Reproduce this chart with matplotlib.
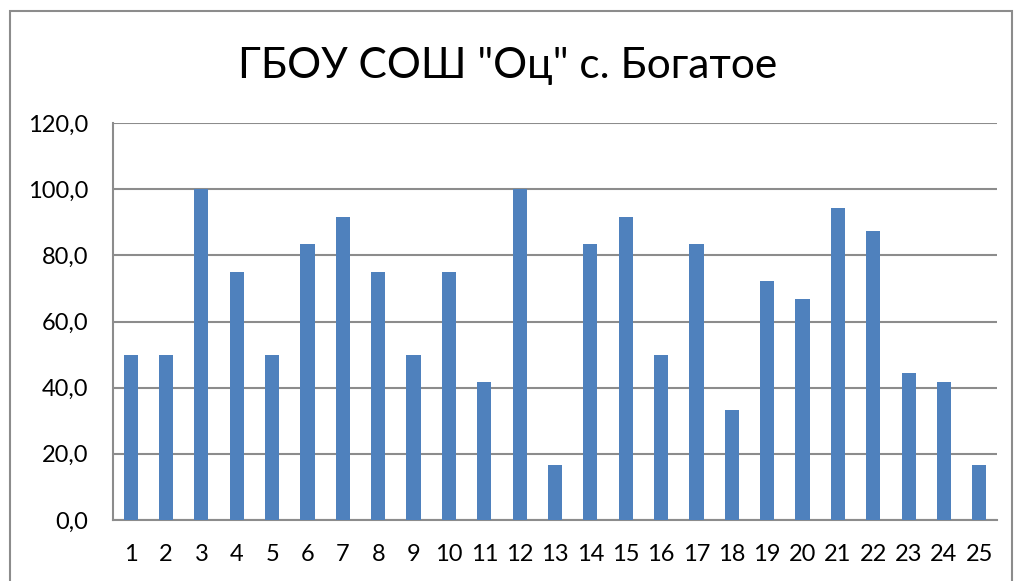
import matplotlib
matplotlib.use("Agg")
from matplotlib import pyplot as plt
from matplotlib.patches import Rectangle
from matplotlib.ticker import FuncFormatter

# chart data
title = 'ГБОУ СОШ "Оц" с. Богатое'
categories = [str(i) for i in range(1, 26)]
values = [50.0, 50.0, 100.0, 75.0, 50.0, 83.3, 91.7, 75.0, 50.0, 75.0,
          41.7, 100.0, 16.7, 83.3, 91.7, 50.0, 83.3, 33.3, 72.2, 66.7,
          94.4, 87.5, 44.4, 41.7, 16.7]
y_ticks = [0, 20, 40, 60, 80, 100, 120]

plt.rcParams['font.family'] = ['Lato', 'DejaVu Sans']

W, H = 1015, 581
fig = plt.figure(figsize=(W / 100, H / 100), dpi=100)

# outer chart frame (bottom edge is cut off in the original)
frame = Rectangle((10 / W, -0.1), (1012 - 10) / W, 1.1 - 11 / H,
                  transform=fig.transFigure, fill=False,
                  edgecolor='#8c8c8c', linewidth=1.5)
fig.patches.append(frame)

ax = fig.add_axes([113 / W, 1 - 520 / H, (997 - 113) / W, (520 - 123) / H])
x = list(range(len(categories)))
ax.bar(x, values, width=0.4, color='#4f81bd', zorder=3)

ax.set_xlim(-0.5, len(categories) - 0.5)
ax.set_ylim(0, 120)
ax.set_xticks(x)
ax.set_xticklabels(categories)
ax.set_yticks(y_ticks)
ax.yaxis.set_major_formatter(FuncFormatter(lambda v, p: f"{v:.1f}".replace('.', ',')))
ax.tick_params(axis='both', length=0, labelsize=17, colors='black')
ax.tick_params(axis='x', pad=17)
ax.tick_params(axis='y', pad=18)

ax.grid(axis='y', color='#8c8c8c', linewidth=1.5, zorder=0)
for s in ['top', 'right']:
    ax.spines[s].set_visible(False)
for s in ['left', 'bottom']:
    ax.spines[s].set_color('#8c8c8c')
    ax.spines[s].set_linewidth(1.5)

fig.text(0.5, 1 - 66 / H, title, ha='center', va='center', fontsize=30.5)

fig.savefig('out.png', dpi=100)
